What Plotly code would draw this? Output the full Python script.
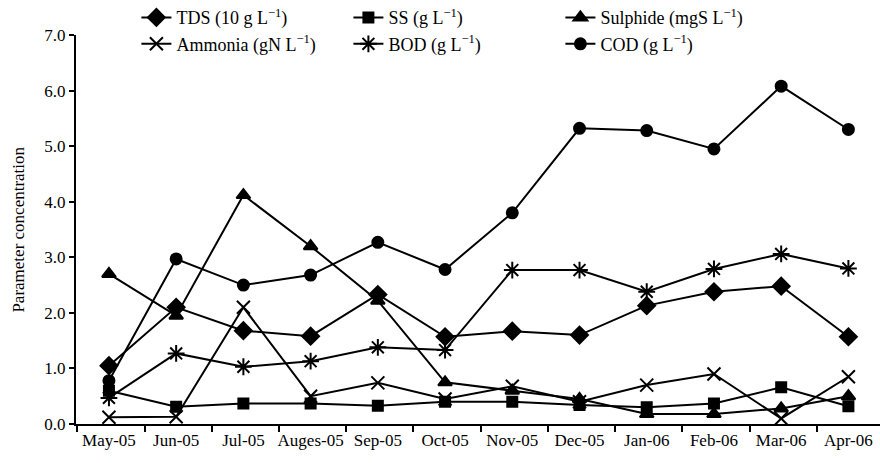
import plotly.graph_objects as go

months = ["May-05", "Jun-05", "Jul-05", "Auges-05", "Sep-05", "Oct-05",
          "Nov-05", "Dec-05", "Jan-06", "Feb-06", "Mar-06", "Apr-06"]

tds = [1.05, 2.1, 1.68, 1.58, 2.33, 1.57, 1.67, 1.6, 2.13, 2.38, 2.48, 1.57]
ss = [0.6, 0.31, 0.37, 0.37, 0.33, 0.4, 0.4, 0.34, 0.3, 0.37, 0.66, 0.32]
sulphide = [2.7, 1.95, 4.12, 3.2, 2.22, 0.75, 0.6, 0.45, 0.18, 0.18, 0.28, 0.5]
ammonia = [0.12, 0.13, 2.1, 0.5, 0.74, 0.45, 0.68, 0.4, 0.7, 0.9, 0.1, 0.85]
bod = [0.47, 1.27, 1.03, 1.13, 1.38, 1.33, 2.77, 2.77, 2.38, 2.79, 3.06, 2.8]
cod = [0.78, 2.97, 2.5, 2.68, 3.27, 2.78, 3.8, 5.32, 5.28, 4.95, 6.08, 5.3]

y_title = "Parameter concentration"

series = [
    ("TDS (10 g L<sup>−1</sup>)", tds, "diamond", 13),
    ("SS (g L<sup>−1</sup>)", ss, "square", 10),
    ("Sulphide (mgS L<sup>−1</sup>)", sulphide, "triangle-up", 12),
    ("Ammonia (gN L<sup>−1</sup>)", ammonia, "x-thin-open", 13),
    ("BOD (g L<sup>−1</sup>)", bod, "asterisk-open", 14),
    ("COD (g L<sup>−1</sup>)", cod, "circle", 11),
]

xs = list(range(len(months)))
font_family = "Liberation Serif"

fig = go.Figure()
for name, vals, sym, sz in series:
    fig.add_trace(go.Scatter(
        x=xs, y=vals, mode="lines+markers", name=name,
        line=dict(color="black", width=2),
        marker=dict(symbol=sym, size=sz, color="black",
                    line=dict(color="black", width=2)),
        cliponaxis=False,
    ))

fig.update_layout(
    width=880, height=463,
    margin=dict(l=76, r=0, t=35, b=39, autoexpand=False),
    paper_bgcolor="white", plot_bgcolor="white",
    font=dict(family=font_family, size=18, color="black"),
    showlegend=True,
    legend=dict(
        orientation="h", xref="container", yref="paper",
        x=0.155, y=1.092, xanchor="left", yanchor="top",
        entrywidth=167, entrywidthmode="pixels",
        font=dict(family=font_family, size=18, color="black"),
        itemwidth=30, tracegroupgap=0, bgcolor="rgba(0,0,0,0)",
    ),
    xaxis=dict(
        range=[-0.49, 11.47],
        tickmode="array", tickvals=xs, ticktext=months,
        ticks="", showgrid=False, zeroline=False,
        showline=True, linecolor="black", linewidth=2,
        ticklabeloverflow="allow",
        tickfont=dict(family=font_family, size=17, color="black"),
        minor=dict(tickmode="array", tickvals=[k - 0.47 for k in range(0, 12)],
                   ticks="outside", ticklen=6, tickwidth=2, tickcolor="black",
                   showgrid=False),
    ),
    yaxis=dict(
        range=[0, 7], tickmode="linear", tick0=0, dtick=1, tickformat=".1f",
        ticks="outside", ticklen=5, tickwidth=2, tickcolor="black",
        showgrid=False, zeroline=False,
        showline=True, linecolor="black", linewidth=2,
        tickfont=dict(family=font_family, size=17, color="black"),
    ),
    annotations=[dict(
        text=y_title, xref="paper", yref="paper", x=-0.072, y=0.5,
        xanchor="center", yanchor="middle", textangle=-90, showarrow=False,
        font=dict(family=font_family, size=17, color="black"),
    )],
)

fig.write_html("out.html", config={"displayModeBar": False},
               post_script="document.body.style.margin='0';document.body.style.padding='0';")
